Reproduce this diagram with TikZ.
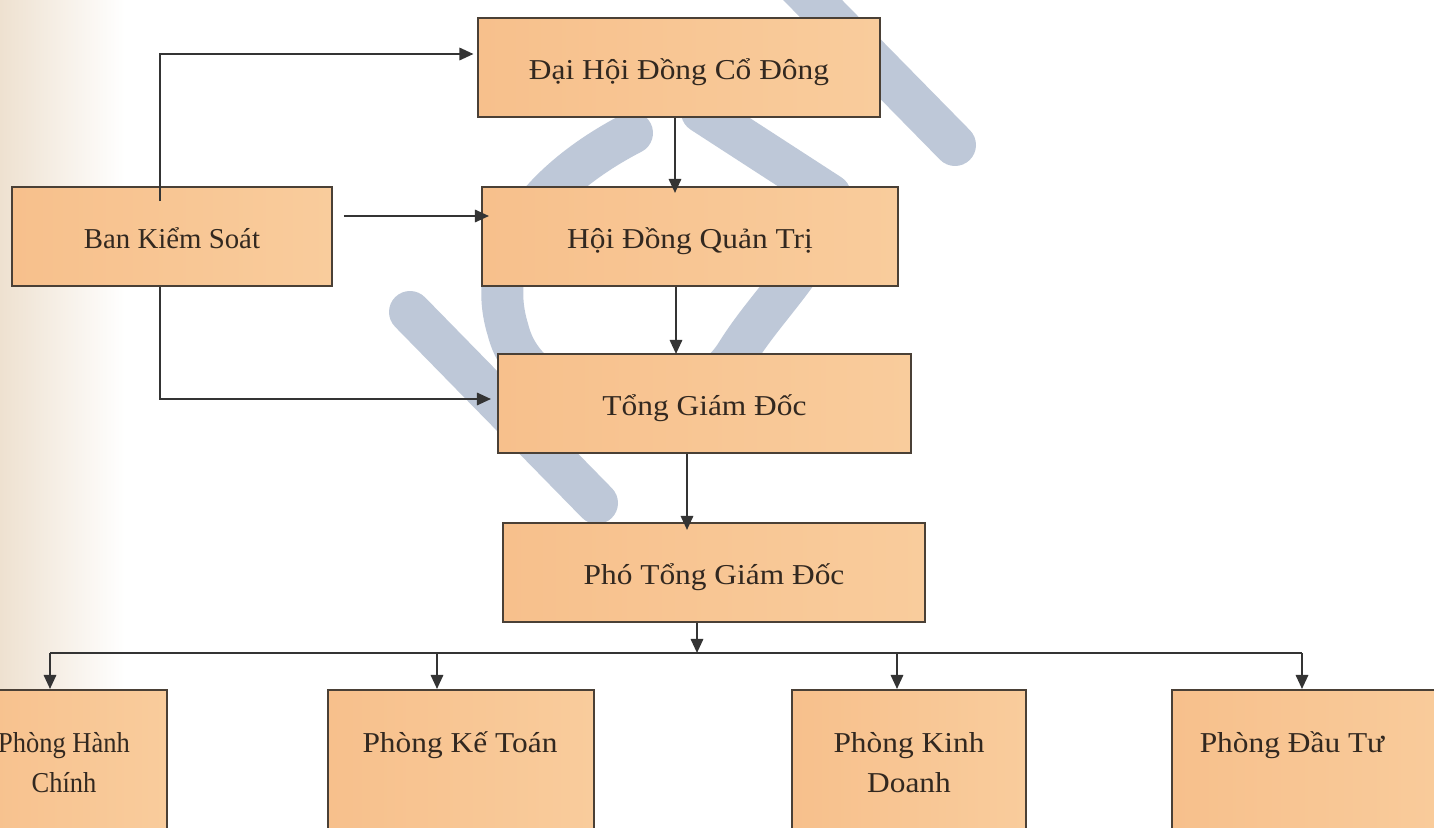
\documentclass[tikz,border=0pt]{standalone}
\usepackage{fontspec}
\setmainfont{Liberation Serif}[FakeStretch=1.09]
\newfontfamily\bksfont{Liberation Serif}
\newfontfamily\phcfont{Liberation Serif}[FakeStretch=0.92]
\usetikzlibrary{arrows.meta}
\definecolor{boxfill}{RGB}{249,204,156}
\definecolor{boxleft}{RGB}{247,192,140}
\definecolor{boxdraw}{RGB}{74,64,54}
\definecolor{linec}{RGB}{52,52,52}
\definecolor{wm}{RGB}{190,200,216}
\definecolor{txt}{RGB}{50,40,32}
\definecolor{beige}{RGB}{238,225,208}
\newcommand\orgfont{\fontsize{16.4}{22.7}\selectfont}
\begin{document}
\begin{tikzpicture}[x=0.02cm,y=-0.02cm,
  orgbox/.style={draw=boxdraw, line width=1.1pt, left color=boxleft, right color=boxfill, inner sep=0pt, font=\orgfont, text=txt},
  topbox/.style={orgbox, text height=17.6pt, text depth=4pt},
  sz/.style 2 args={minimum width={#1*0.02cm}, minimum height={#2*0.02cm}},
  lbl/.style={font=\orgfont, text=txt, align=center, inner sep=0pt},
  arr/.style={draw=linec, line width=1.3pt, -{Triangle[length=8pt,width=7pt]}},
  link/.style={draw=linec, line width=1.3pt},
  wmark/.style={draw=wm, line width=0.84cm, line cap=round}]
\useasboundingbox (0,0) rectangle (1434,828);
\clip (0,0) rectangle (1434,828);
\fill[white] (0,0) rectangle (1434,828);
\shade[left color=beige, right color=white] (0,0) rectangle (125,828);
% watermark
\draw[wmark] (790,-23) -- (955,145);
\draw[wmark] (410,312) -- (597,503);
\draw[wmark] (632,133) .. controls (560,170) and (480,240) .. (508,330) .. controls (530,420) and (690,430) .. (737,353) .. controls (770,300) and (820,260) .. (830,200);
\draw[wmark] (702,112) -- (830,195);
% boxes
\node[topbox, sz={402}{99}] (dh) at (679,67.5) {Đại Hội Đồng Cổ Đông};
\node[topbox, sz={416}{99}] (hd) at (690,236.5) {Hội Đồng Quản Trị};
\node[topbox, sz={320}{99}, font=\orgfont\bksfont] (bks) at (172,236.5) {Ban Kiểm Soát};
\node[topbox, sz={413}{99}] (tgd) at (704.5,403.5) {Tổng Giám Đốc};
\node[topbox, sz={422}{99}] (ptgd) at (714,572.5) {Phó Tổng Giám Đốc};
\node[orgbox, sz={208}{210}] (phc) at (63,795) {};
\node[orgbox, sz={266}{210}] (pkt) at (461,795) {};
\node[orgbox, sz={234}{210}] (pkd) at (909,795) {};
\node[orgbox, sz={288}{210}] (pdt) at (1316,795) {};
\node[lbl, anchor=base, font=\orgfont\phcfont] (phct) at (64,792) {Phòng Hành\\Chính};
\node[lbl, anchor=base] (pktt) at (460,752) {Phòng Kế Toán};
\node[lbl, anchor=base] (pkdt) at (909,792) {Phòng Kinh\\Doanh};
\node[lbl, anchor=base] (pdtt) at (1292,752) {Phòng Đầu Tư};
% connectors
\coordinate (kx) at (160,0);
\coordinate (ktop) at (160,201);
\draw[arr, shorten >=2pt] (ktop) |- ([yshift=0.27cm]dh.west);
\draw[arr] ([xshift=0.22cm,yshift=0.41cm]bks.east) -- ([xshift=0.16cm,yshift=0.41cm]hd.west);
\draw[arr] (bks.south -| kx) |- ([xshift=-0.12cm,yshift=0.09cm]tgd.west);
\coordinate (c1) at (675,193);
\draw[arr] (dh.south -| c1) -- (c1);
\coordinate (c2) at (676,354);
\draw[arr] (hd.south -| c2) -- (c2);
\coordinate (c3) at (687,530);
\draw[arr] (tgd.south -| c3) -- (c3);
\coordinate (bus) at (697,653);
\coordinate (busL) at (50,653);
\coordinate (busR) at (1302,653);
\coordinate (d2) at (437,653);
\coordinate (d3) at (897,653);
\draw[arr] (ptgd.south -| bus) -- (bus);
\draw[link] (busL) -- (busR);
\draw[arr] (busL) -- (busL |- phc.north);
\draw[arr] (d2) -- (d2 |- pkt.north);
\draw[arr] (d3) -- (d3 |- pkd.north);
\draw[arr] (busR) -- (busR |- pdt.north);
\end{tikzpicture}
\end{document}
